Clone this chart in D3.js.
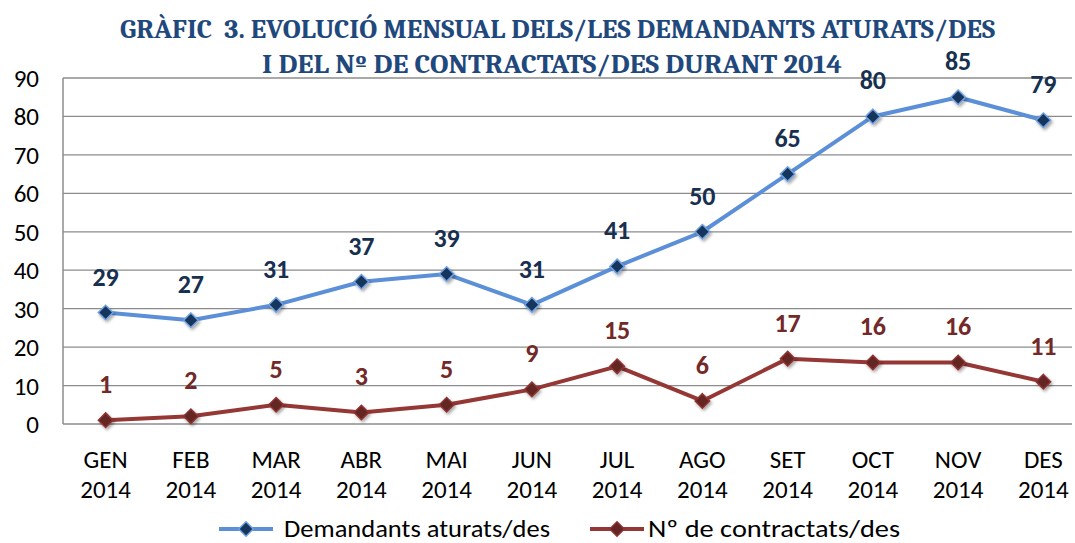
<!DOCTYPE html>
<html>
<head>
<meta charset="utf-8">
<script src="https://cdn.jsdelivr.net/npm/d3@7"></script>
<style>
  body { margin: 0; background: #fff; }
  svg { display: block; }
</style>
</head>
<body>
<svg id="chart" width="1075" height="543"></svg>
<script>
// data
const months = ["GEN", "FEB", "MAR", "ABR", "MAI", "JUN", "JUL", "AGO", "SET", "OCT", "NOV", "DES"];
const year = "2014";
const aturats = [29, 27, 31, 37, 39, 31, 41, 50, 65, 80, 85, 79];
const contractats = [1, 2, 5, 3, 5, 9, 15, 6, 17, 16, 16, 11];
const yTicks = [0, 10, 20, 30, 40, 50, 60, 70, 80, 90];
const titleLines = ["GRÀFIC  3. EVOLUCIÓ MENSUAL DELS/LES DEMANDANTS ATURATS/DES",
                    "I DEL Nº DE CONTRACTATS/DES DURANT 2014"];
const seriesNames = ["Demandants aturats/des", "Nº de contractats/des"];

const svg = d3.select("#chart");
const sans = "Carlito, Calibri, 'Open Sans', 'Liberation Sans', sans-serif";

// scales
let x = d3.scaleBand().domain(months).range([63, 1086]);
let y = d3.scaleLinear().domain([0, 90]).range([424, 78]);
const cx = (i) => x(months[i]) + x.bandwidth() / 2;

// drop shadow for the markers
const defs = svg.append("defs");
const f = defs.append("filter").attr("id", "shadow").attr("x", "-50%").attr("y", "-50%").attr("width", "200%").attr("height", "200%");
f.append("feDropShadow").attr("dx", 1.5).attr("dy", 2).attr("stdDeviation", 1.5).attr("flood-color", "#000").attr("flood-opacity", 0.35);

// gridlines
svg.append("g")
  .selectAll("line")
  .data(yTicks.filter(d => d > 0))
  .join("line")
  .attr("x1", 63).attr("x2", 1072)
  .attr("y1", d => y(d)).attr("y2", d => y(d))
  .attr("stroke", "#8c8c8c").attr("stroke-width", 1.3);

// axes lines
svg.append("line").attr("x1", 63).attr("x2", 63).attr("y1", y(90)).attr("y2", y(0))
  .attr("stroke", "#8c8c8c").attr("stroke-width", 1.5);
svg.append("line").attr("x1", 63).attr("x2", 1072).attr("y1", y(0)).attr("y2", y(0))
  .attr("stroke", "#8c8c8c").attr("stroke-width", 1.5);

// y tick labels
svg.append("g")
  .selectAll("text")
  .data(yTicks)
  .join("text")
  .attr("x", 39).attr("y", d => y(d) + 9)
  .attr("text-anchor", "end")
  .attr("font-family", sans).attr("font-size", 25).attr("fill", "#000")
  .text(d => d);

// x tick labels
const xl = svg.append("g").selectAll("text").data(months).join("text")
  .attr("text-anchor", "middle")
  .attr("font-family", sans).attr("font-size", 25).attr("fill", "#000");
xl.append("tspan").attr("x", (d, i) => cx(i)).attr("y", 468).text(d => d);
xl.append("tspan").attr("x", (d, i) => cx(i)).attr("y", 498).text(year);

// series
const series = [
  { name: seriesNames[0], values: aturats, line: "#5b8fd8", fill: "#17365d", stroke: "#6fa0e0", label: "#17304f", legendX: 219, textX: 65, legendW: 266 },
  { name: seriesNames[1], values: contractats, line: "#953735", fill: "#632523", stroke: "#8f3432", label: "#722927", legendX: 590, textX: 58, legendW: 252 }
];

const diamond = d3.symbol().type(d3.symbolDiamond2).size(135);

series.forEach(s => {
  const line = d3.line()
    .x((d, i) => cx(i))
    .y(d => y(d));
  svg.append("path")
    .datum(s.values)
    .attr("fill", "none")
    .attr("stroke", s.line)
    .attr("stroke-width", 4)
    .attr("stroke-linejoin", "round")
    .attr("d", line);

  svg.append("g").selectAll("path")
    .data(s.values)
    .join("path")
    .attr("d", diamond)
    .attr("transform", (d, i) => `translate(${cx(i)},${y(d)})`)
    .attr("fill", s.fill)
    .attr("stroke", s.stroke)
    .attr("stroke-width", 1.5)
    .attr("filter", "url(#shadow)");

  svg.append("g").selectAll("text")
    .data(s.values)
    .join("text")
    .attr("x", (d, i) => cx(i))
    .attr("y", d => y(d) - 27)
    .attr("text-anchor", "middle")
    .attr("font-family", sans).attr("font-weight", "bold").attr("font-size", 26)
    .attr("fill", s.label)
    .text(d => d);
});

// title
const serif = "Cambria, 'Liberation Serif', 'DejaVu Serif', serif";
svg.append("text").attr("x", 120).attr("y", 38)
  .attr("font-family", serif).attr("font-weight", "bold").attr("font-size", 26)
  .attr("fill", "#1f497d").attr("textLength", 875).attr("lengthAdjust", "spacingAndGlyphs")
  .style("white-space", "pre")
  .text(titleLines[0]);
svg.append("text").attr("x", 262).attr("y", 73)
  .attr("font-family", serif).attr("font-weight", "bold").attr("font-size", 26)
  .attr("fill", "#1f497d").attr("textLength", 580).attr("lengthAdjust", "spacingAndGlyphs")
  .text(titleLines[1]);

// legend
const legend = svg.append("g").selectAll("g").data(series).join("g")
  .attr("transform", d => `translate(${d.legendX},529)`);
legend.append("line").attr("x1", 0).attr("x2", 54)
  .attr("stroke", d => d.line).attr("stroke-width", 4);
legend.append("path").attr("d", diamond).attr("transform", "translate(27,0)")
  .attr("fill", d => d.fill).attr("stroke", d => d.stroke).attr("stroke-width", 1.5);
legend.append("text").attr("x", d => d.textX).attr("y", 8)
  .attr("font-family", sans).attr("font-size", 25).attr("fill", "#000")
  .attr("textLength", d => d.legendW).attr("lengthAdjust", "spacingAndGlyphs")
  .text(d => d.name);
</script>
</body>
</html>
